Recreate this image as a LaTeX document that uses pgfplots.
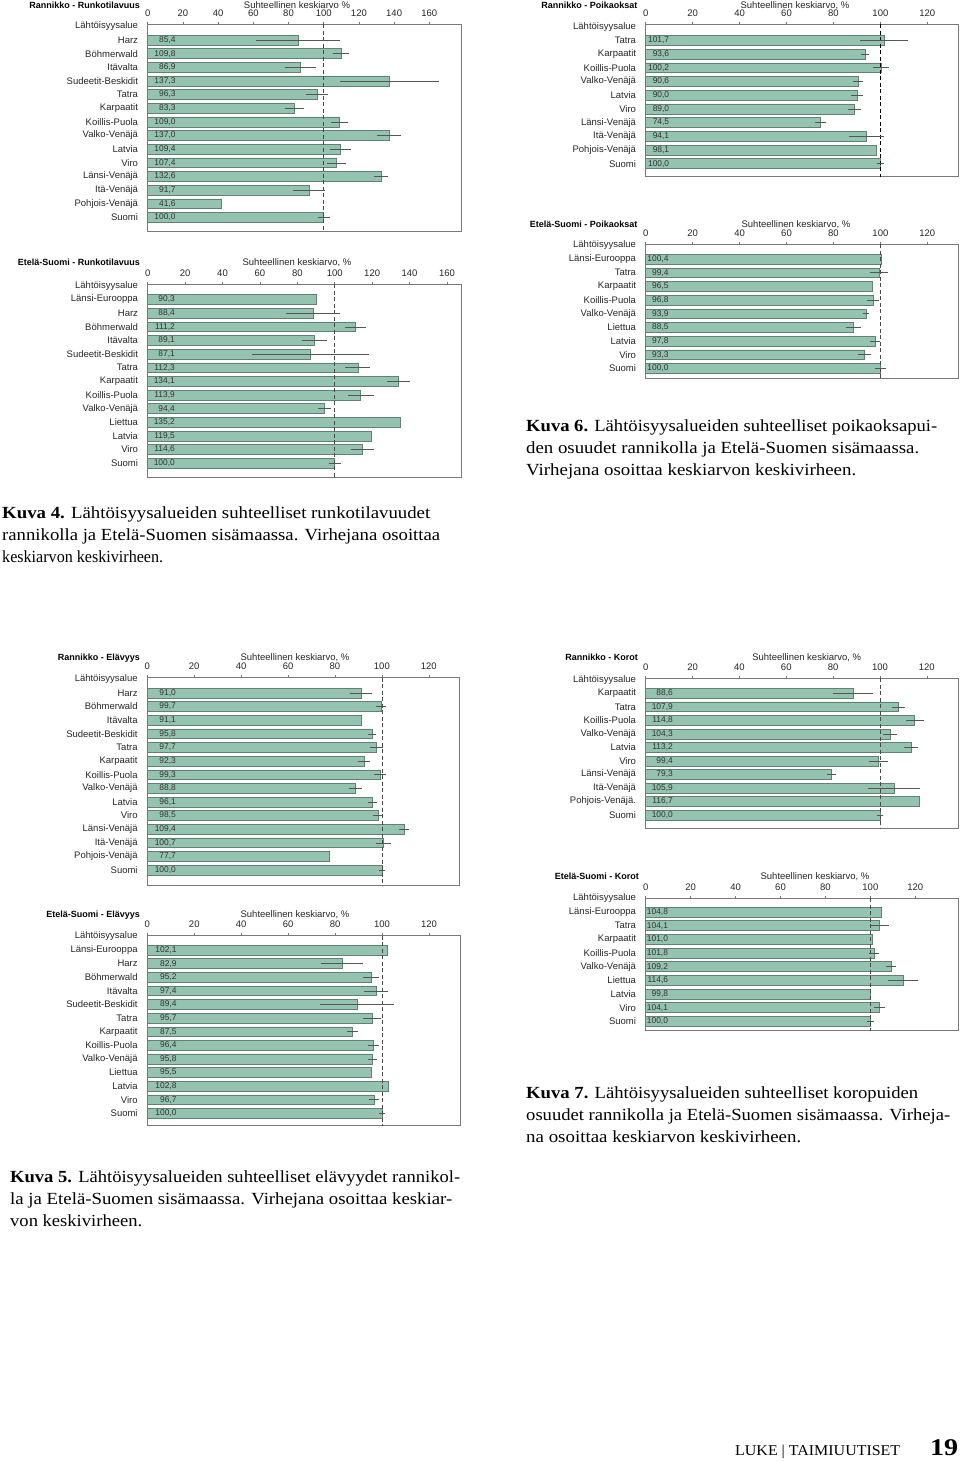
\documentclass[border=0pt]{standalone}
\usepackage{fontspec}
\setmainfont{Liberation Sans}
\newfontfamily\capfont{Liberation Serif}
\usepackage{pgfplots}
\pgfplotsset{compat=1.18}
\usepackage{pgfplotstable}

\definecolor{barfill}{RGB}{148,195,175}
\definecolor{bardraw}{RGB}{100,128,116}
\definecolor{errc}{RGB}{85,85,85}
\definecolor{framec}{RGB}{120,120,120}

\newsavebox\linebox
\newcommand\fitline[2]{\sbox\linebox{#2}\pgfmathsetmacro\fitr{#1/\wd\linebox}\scalebox{\fitr}[1]{\usebox\linebox}}

\pgfplotstableread{
r v e
1 85.4 22.7
2 109.8 3.7
3 86.9 8
4 137.3 27.3
5 96.3 5.5
6 83.3 4.6
7 109.0 4
8 137.0 6
9 109.4 5
10 107.4 4.4
11 132.6 3
12 91.7 8
13 41.6 0
14 100.0 2.5
}\tA
\pgfplotstableread{
r v e
1 90.3 0
2 88.4 13.6
3 111.2 4.8
4 89.1 5.8
5 87.1 30.4
6 112.3 5.8
7 134.1 5.3
8 113.9 6
9 94.4 2.7
10 135.2 0
11 119.5 0
12 114.6 5.3
13 100.0 2.4
}\tB
\pgfplotstableread{
r v e
1 101.7 9.5
2 93.6 1
3 100.2 2.7
4 90.6 1.5
5 90.0 1.7
6 89.0 2
7 74.5 1.8
8 94.1 6.8
9 98.1 0
10 100.0 0.8
}\tC
\pgfplotstableread{
r v e
1 100.4 0
2 99.4 3.2
3 96.5 0
4 96.8 2
5 93.9 0.7
6 88.5 2.4
7 97.8 1.4
8 93.3 2.2
9 100.0 1.7
}\tD
\pgfplotstableread{
r v e
1 91.0 4.1
2 99.7 1.4
3 91.1 0
4 95.8 1.2
5 97.7 2
6 92.3 2
7 99.3 1.8
8 88.8 2
9 96.1 1.3
10 98.5 1.5
11 109.4 1.5
12 100.7 2.5
13 77.7 0
14 100.0 0.7
}\tE
\pgfplotstableread{
r v e
1 102.1 0
2 82.9 8.2
3 95.2 2.8
4 97.4 4.6
5 89.4 15
6 95.7 3.2
7 87.5 1.6
8 96.4 1.7
9 95.8 1.2
10 95.5 0
11 102.8 0
12 96.7 1.5
13 100.0 0.6
}\tF
\pgfplotstableread{
r v e
1 88.6 7.8
2 107.9 2.3
3 114.8 3.1
4 104.3 2.3
5 113.2 2.3
6 99.4 3.2
7 79.3 1.3
8 105.9 10.5
9 116.7 0
10 100.0 0.8
}\tG
\pgfplotstableread{
r v e
1 104.8 0
2 104.1 3.3
3 101.0 0
4 101.8 1.5
5 109.2 1.4
6 114.6 6
7 99.8 0
8 104.1 1.7
9 100.0 1
}\tH

\pgfplotsset{
 panel/.style={
  scale only axis, anchor=north west,
  xmin=0, y dir=reverse, enlargelimits=false,
  xtick={0,20,...,160},
  xtick pos=right, xticklabel pos=right,
  tick align=outside, major tick length=2.5pt,
  ytick style={draw=none},
  xtick style={draw=framec, line width=0.5pt},
  axis line style={draw=framec, line width=0.7pt},
  tick label style={font=\fontsize{9.5}{10}\selectfont, text=black!85},
  xticklabel style={inner sep=0pt, anchor=south},
  xticklabel shift=5pt,
  yticklabel style={inner sep=0pt, anchor=east},
  yticklabel shift=7pt,
  /pgf/number format/assume math mode=true,
  clip=false,
 }
}

\newcommand\panelplots[5]{%
  \addplot[xbar, bar width=0.72, fill=barfill, draw=bardraw, line width=0.5pt] table[x=v,y=r]{#1};
  \addplot[#5, dash pattern=on 4pt off 2.5pt, line width=0.7pt] coordinates {(100,#3) (100,#4)};
  \addplot[draw=none, mark=none, x filter/.expression={\thisrow{e}==0 ? nan : x},
    error bars/.cd, x dir=both, x explicit,
    error bar style={draw=errc, solid, line width=0.5pt},
    error mark options={draw=errc, solid, mark size=1.6pt, line width=0.5pt}] table[x=v,y=r,x error=e]{#1};
  \addplot[only marks, mark=none, point meta=\thisrow{v},
    nodes near coords={\pgfmathprintnumber[fixed,fixed zerofill,precision=1,use comma]{\pgfplotspointmeta}},
    every node near coord/.append style={anchor=east, xshift=#2, inner sep=0pt, font=\fontsize{8.4}{9}\selectfont, text=black!80}]
    table[x expr=0,y=r]{#1};
}

\newcommand\ptitle[3]{\node[anchor=base east, inner sep=0pt, font=\bfseries\fontsize{9}{10}\selectfont] at (#1pt,-#2pt) {#3};}
\newcommand\plabel[3]{\node[anchor=base, inner sep=0pt, font=\fontsize{9.5}{10}\selectfont, text=black!85] at (#1pt,-#2pt) {#3};}
\newcommand\capline[4]{\node[anchor=base west, inner sep=0pt] at (#1pt,-#2pt) {\fitline{#3}{\capfont\fontsize{17}{20}\selectfont #4}};}

\begin{document}
\begin{tikzpicture}
\fill[white] (0,0) rectangle (960pt,-1461pt);
\useasboundingbox (0,0) rectangle (960pt,-1461pt);

% Panel 1
\begin{axis}[panel, at={(147.7pt,-24pt)}, width=313.3pt, height=207pt, xmax=178, ymin=-0.17, ymax=15.0,
  ytick={0,...,14}, yticklabels={Lähtöisyysalue,Harz,Böhmerwald,Itävalta,Sudeetit-Beskidit,Tatra,Karpaatit,Koillis-Puola,Valko-Venäjä,Latvia,Viro,Länsi-Venäjä,Itä-Venäjä,Pohjois-Venäjä,Suomi}]
\panelplots{\tA}{28pt}{-0.17}{15.0}{framec!60!black}
\end{axis}
\ptitle{140}{8.5}{Rannikko - Runkotilavuus}
\plabel{297}{8.5}{Suhteellinen keskiarvo \%}

% Panel 2
\begin{axis}[panel, at={(147.7pt,-284.3pt)}, width=313.3pt, height=193.4pt, xmax=167.5, ymin=-0.11, ymax=14.06,
  ytick={0,...,13}, yticklabels={Lähtöisyysalue,Länsi-Eurooppa,Harz,Böhmerwald,Itävalta,Sudeetit-Beskidit,Tatra,Karpaatit,Koillis-Puola,Valko-Venäjä,Liettua,Latvia,Viro,Suomi}]
\panelplots{\tB}{27.3pt}{-0.11}{14.06}{framec!60!black}
\end{axis}
\ptitle{140}{265}{Etelä-Suomi - Runkotilavuus}
\plabel{297}{265}{Suhteellinen keskiarvo, \%}

% Panel 3
\begin{axis}[panel, at={(645.7pt,-24pt)}, width=312.6pt, height=152.7pt, xmax=133.2, ymin=-0.19, ymax=10.95,
  ytick={0,...,10}, yticklabels={Lähtöisyysalue,Tatra,Karpaatit,Koillis-Puola,Valko-Venäjä,Latvia,Viro,Länsi-Venäjä,Itä-Venäjä,Pohjois-Venäjä,Suomi}]
\panelplots{\tC}{23.6pt}{-0.19}{10.95}{black}
\end{axis}
\ptitle{637.5}{8.5}{Rannikko - Poikaoksat}
\plabel{795}{8.5}{Suhteellinen keskiarvo, \%}

% Panel 4
\begin{axis}[panel, at={(645.7pt,-244.3pt)}, width=312.6pt, height=134pt, xmax=133.2, ymin=-0.08, ymax=9.73,
  ytick={0,...,9}, yticklabels={Lähtöisyysalue,Länsi-Eurooppa,Tatra,Karpaatit,Koillis-Puola,Valko-Venäjä,Liettua,Latvia,Viro,Suomi}]
\panelplots{\tD}{23pt}{-0.08}{9.73}{framec!60!black}
\end{axis}
\ptitle{637.5}{227.5}{Etelä-Suomi - Poikaoksat}
\plabel{796}{227.5}{Suhteellinen keskiarvo, \%}

% Panel 5
\begin{axis}[panel, at={(147.3pt,-677.7pt)}, width=312pt, height=208pt, xmax=133, ymin=-0.12, ymax=15.15,
  ytick={0,...,14}, yticklabels={Lähtöisyysalue,Harz,Böhmerwald,Itävalta,Sudeetit-Beskidit,Tatra,Karpaatit,Koillis-Puola,Valko-Venäjä,Latvia,Viro,Länsi-Venäjä,Itä-Venäjä,Pohjois-Venäjä,Suomi}]
\panelplots{\tE}{28.7pt}{-0.12}{15.15}{framec!60!black}
\end{axis}
\ptitle{140}{660.8}{Rannikko - Elävyys}
\plabel{295}{660.8}{Suhteellinen keskiarvo, \%}

% Panel 6
\begin{axis}[panel, at={(147.3pt,-935.7pt)}, width=313.4pt, height=190pt, xmax=133.5, ymin=-0.05, ymax=13.91,
  ytick={0,...,13}, yticklabels={Lähtöisyysalue,Länsi-Eurooppa,Harz,Böhmerwald,Itävalta,Sudeetit-Beskidit,Tatra,Karpaatit,Koillis-Puola,Valko-Venäjä,Liettua,Latvia,Viro,Suomi}]
\panelplots{\tF}{29.4pt}{-0.05}{13.91}{framec!60!black}
\end{axis}
\ptitle{140}{917.8}{Etelä-Suomi - Elävyys}
\plabel{295}{917.8}{Suhteellinen keskiarvo, \%}

% Panel 7
\begin{axis}[panel, at={(645.7pt,-678.3pt)}, width=312.3pt, height=150pt, xmax=133.3, ymin=-0.11, ymax=10.98,
  ytick={0,...,10}, yticklabels={Lähtöisyysalue,Karpaatit,Tatra,Koillis-Puola,Valko-Venäjä,Latvia,Viro,Länsi-Venäjä,Itä-Venäjä,Pohjois-Venäjä.,Suomi}]
\panelplots{\tG}{27.3pt}{-0.11}{10.98}{framec!60!black}
\end{axis}
\ptitle{638}{660.2}{Rannikko - Korot}
\plabel{806.7}{660.2}{Suhteellinen keskiarvo, \%}

% Panel 8
\begin{axis}[panel, at={(645.7pt,-898pt)}, width=312.3pt, height=132.7pt, xmax=139, ymin=-0.02, ymax=9.69,
  ytick={0,...,9}, yticklabels={Lähtöisyysalue,Länsi-Eurooppa,Tatra,Karpaatit,Koillis-Puola,Valko-Venäjä,Liettua,Latvia,Viro,Suomi}]
\panelplots{\tH}{22.5pt}{-0.02}{9.69}{framec!60!black}
\end{axis}
\ptitle{639}{879.8}{Etelä-Suomi - Korot}
\plabel{815}{879.8}{Suhteellinen keskiarvo, \%}

% Captions
\capline{526}{431}{411}{\textbf{Kuva 6.} Lähtöisyysalueiden suhteelliset poikaoksapui-}
\capline{526}{453}{393}{den osuudet rannikolla ja Etelä-Suomen sisämaassa.}
\capline{526}{475}{330}{Virhejana osoittaa keskiarvon keskivirheen.}

\capline{2}{518}{428}{\textbf{Kuva 4.} Lähtöisyysalueiden suhteelliset runkotilavuudet}
\capline{2}{540}{438}{rannikolla ja Etelä-Suomen sisämaassa. Virhejana osoittaa}
\capline{2}{562}{161}{keskiarvon keskivirheen.}

\capline{526}{1098}{392}{\textbf{Kuva 7.} Lähtöisyysalueiden suhteelliset koropuiden}
\capline{526}{1120}{424}{osuudet rannikolla ja Etelä-Suomen sisämaassa. Virheja-}
\capline{526}{1142}{275}{na osoittaa keskiarvon keskivirheen.}

\capline{10}{1182}{450}{\textbf{Kuva 5.} Lähtöisyysalueiden suhteelliset elävyydet rannikol-}
\capline{10}{1204}{442}{la ja Etelä-Suomen sisämaassa. Virhejana osoittaa keskiar-}
\capline{10}{1226}{132}{von keskivirheen.}

% Footer
\node[anchor=base west, inner sep=0pt] at (735pt,-1455pt) {\fitline{165}{\capfont\fontsize{15}{18}\selectfont LUKE | TAIMIUUTISET}};
\node[anchor=base west, inner sep=0pt] at (930pt,-1455pt) {\fitline{28}{\capfont\bfseries\fontsize{24}{26}\selectfont 19}};
\end{tikzpicture}
\end{document}
